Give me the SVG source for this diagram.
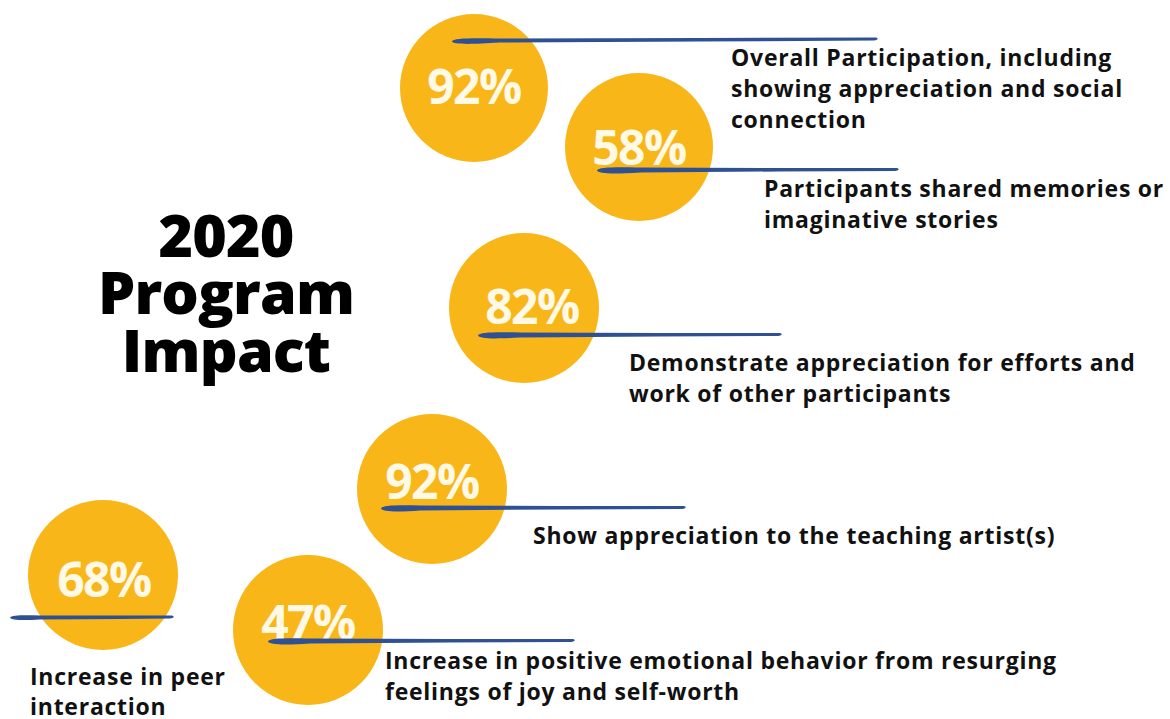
<svg xmlns="http://www.w3.org/2000/svg" width="1170" height="719" viewBox="0 0 1170 719">
<style>
.bubble{fill:#F8B619}
.pct{font-family:"Open Sans","Liberation Sans",sans-serif;font-weight:700;font-size:48px;letter-spacing:-1.5px;fill:#FFF9E6;text-anchor:middle}
.lbl{font-family:"Open Sans","Liberation Sans",sans-serif;font-weight:700;font-size:23px;letter-spacing:0.75px;fill:#111}
.title{font-family:"Open Sans","Liberation Sans",sans-serif;font-weight:800;font-size:59px;letter-spacing:-0.8px;fill:#000;text-anchor:middle}
.stroke{fill:#2F5193}
</style>
<rect width="1170" height="719" fill="#fff"/>
<g id="title">
<text class="title" x="226" y="257">2020</text>
<text class="title" x="226" y="314">Program</text>
<text class="title" x="226" y="372">Impact</text>
</g>
<g id="node-92-top">
<circle class="bubble" cx="474" cy="88" r="74"/>
<text class="pct" x="474" y="104">92%</text>
<text class="lbl" x="731" y="66">Overall Participation, including</text>
<text class="lbl" x="731" y="97">showing appreciation and social</text>
<text class="lbl" x="731" y="128">connection</text>
</g>
<g id="node-58">
<circle class="bubble" cx="639" cy="147" r="74"/>
<text class="pct" x="639" y="165">58%</text>
<text class="lbl" x="764" y="197">Participants shared memories or</text>
<text class="lbl" x="764" y="228">imaginative stories</text>
</g>
<g id="node-82">
<circle class="bubble" cx="524" cy="308" r="75"/>
<text class="pct" x="532" y="324">82%</text>
<text class="lbl" x="629" y="371">Demonstrate appreciation for efforts and</text>
<text class="lbl" x="629" y="402">work of other participants</text>
</g>
<g id="node-92-mid">
<circle class="bubble" cx="432" cy="489" r="75"/>
<text class="pct" x="432" y="499">92%</text>
<text class="lbl" x="533" y="544">Show appreciation to the teaching artist(s)</text>
</g>
<g id="node-68">
<circle class="bubble" cx="103" cy="575" r="75"/>
<text class="pct" x="104" y="597">68%</text>
<text class="lbl" x="30" y="685">Increase in peer</text>
<text class="lbl" x="30" y="715">interaction</text>
</g>
<g id="node-47">
<circle class="bubble" cx="308" cy="630" r="75"/>
<text class="pct" x="308" y="640">47%</text>
<text class="lbl" x="385" y="669">Increase in positive emotional behavior from resurging</text>
<text class="lbl" x="385" y="700">feelings of joy and self-worth</text>
</g>
<g id="connectors">
<path class="stroke" d="M452,41.5 C453,38 470,38 500,38.5 L700,38 L876,37.5 C879,38.5 878,40 874,40.5 L700,41.5 L500,42.5 C470,44.5 453,44.5 452,41.5 Z"/>
<path class="stroke" d="M597,170.5 C598,167 615,167 640,167.5 L780,168 L897,168 C900,169 899,170.5 895,171 L780,171.5 L640,172.5 C615,174 598,174 597,170.5 Z"/>
<path class="stroke" d="M478,335.5 C479,332 496,332 520,332.5 L660,333 L780,333 C783,334 782,335.5 778,336 L660,336.5 L520,337.5 C496,339 479,339 478,335.5 Z"/>
<path class="stroke" d="M381,508.5 C382,505 399,505 420,505.5 L560,506 L684,506 C687,507 686,508.5 682,509 L560,509.5 L420,510.5 C399,512 382,512 381,508.5 Z"/>
<path class="stroke" d="M10,617.5 C11,615 25,615 40,615.5 L120,615.5 L172,615.5 C175,616.5 174,618 170,618.5 L120,619 L40,619.5 C25,620.5 11,620.5 10,617.5 Z"/>
<path class="stroke" d="M268,641.5 C269,638 286,638 310,638.5 L450,639 L573,639 C576,640 575,641.5 571,642 L450,642.5 L310,643.5 C286,645 269,645 268,641.5 Z"/>
</g>
</svg>
